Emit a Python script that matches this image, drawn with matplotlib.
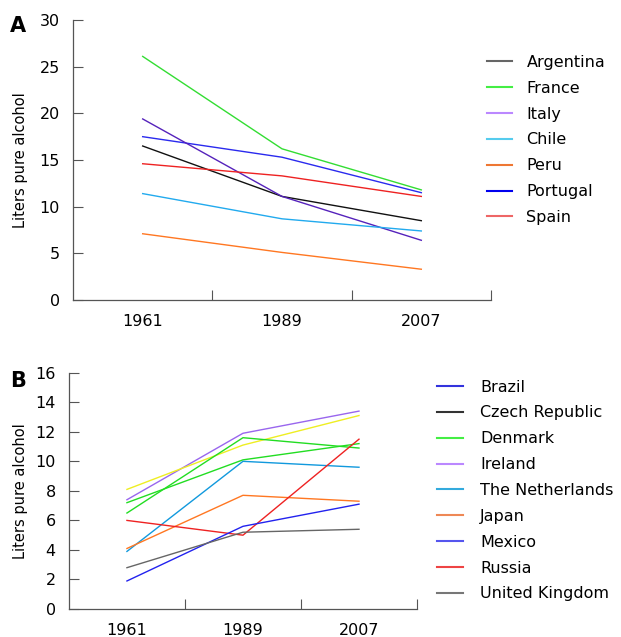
import matplotlib
matplotlib.use("Agg")
import matplotlib.pyplot as plt
from matplotlib.lines import Line2D

plt.rcParams.update({"font.family": "DejaVu Sans", "font.size": 11.5})

years = ["1961", "1989", "2007"]

# ---- panel A data (liters pure alcohol) ----
a_names = ["France", "Portugal", "Argentina", "Italy", "Spain", "Chile", "Peru"]
a_vals = [
    [26.1, 16.2, 11.8],
    [17.5, 15.3, 11.5],
    [16.5, 11.1, 8.5],
    [19.4, 11.1, 6.4],
    [14.6, 13.3, 11.1],
    [11.4, 8.7, 7.4],
    [7.1, 5.1, 3.3],
]
a_colors = ["#33dd33", "#2a2aee", "#111111", "#5522bb", "#ee2222", "#22aaee", "#ff7722"]
a_leg_names = ["Argentina", "France", "Italy", "Chile", "Peru", "Portugal", "Spain"]
a_leg_colors = ["#666666", "#44ee44", "#bb88ff", "#55ccee", "#ee7733", "#0000ee", "#ee6666"]

# ---- panel B data ----
b_vals = [
    [7.4, 11.9, 13.4],   # purple
    [8.1, 11.1, 13.1],   # yellow
    [7.2, 10.1, 11.2],   # green
    [6.5, 11.6, 10.9],   # green
    [3.9, 10.0, 9.6],    # cyan
    [4.1, 7.7, 7.3],     # orange
    [6.0, 5.0, 11.5],    # red
    [1.9, 5.6, 7.1],     # blue
    [2.8, 5.2, 5.4],     # gray
]
b_colors = ["#9966ee", "#eeee22", "#22dd22", "#22dd22", "#1199dd", "#ff7722",
            "#ee2222", "#2222ee", "#666666"]
b_leg_names = ["Brazil", "Czech Republic", "Denmark", "Ireland", "The Netherlands",
               "Japan", "Mexico", "Russia", "United Kingdom"]
b_leg_colors = ["#3333dd", "#333333", "#44ee44", "#bb88ff", "#33aadd", "#ee8855",
                "#5555ee", "#ee4444", "#777777"]

fig = plt.figure(figsize=(6.21, 6.37), dpi=100)
axA = fig.add_axes([0.1176, 0.529, 0.673, 0.4396])
axB = fig.add_axes([0.111, 0.0439, 0.5605, 0.371])


def style(ax, ymax, ystep):
    x = range(len(years))
    ax.set_xlim(-0.5, 2.5)
    ax.set_ylim(0, ymax)
    ax.set_yticks(range(0, ymax + 1, ystep))
    ax.set_xticks([0.5, 1.5, 2.5])
    ax.set_xticklabels([])
    ax.set_xticks(list(x), minor=True)
    ax.set_xticklabels(years, minor=True)
    ax.tick_params(axis="x", which="minor", length=0, pad=10)
    ax.tick_params(axis="x", which="major", direction="in", length=7, color="#555555")
    ax.tick_params(axis="y", direction="in", length=7, color="#555555", pad=9.5)
    for s in ("top", "right"):
        ax.spines[s].set_visible(False)
    for s in ("left", "bottom"):
        ax.spines[s].set_color("#555555")
        ax.spines[s].set_linewidth(0.9)
    ax.set_ylabel("Liters pure alcohol", fontsize=10.5)


for vals, c in zip(a_vals, a_colors):
    axA.plot(range(len(years)), vals, color=c, lw=1.0)
style(axA, 30, 5)
axA.yaxis.set_label_coords(-0.108, 0.5)
hA = [Line2D([0], [0], color=c, lw=1.5) for c in a_leg_colors]
axA.legend(hA, a_leg_names, loc="upper left", bbox_to_anchor=(0.955, 0.927),
           frameon=False, handlelength=1.6, handletextpad=0.9, labelspacing=0.68,
           fontsize=11.5)
fig.text(10 / 621, 1 - 26 / 637, "A", fontsize=15, fontweight="bold",
         va="center", ha="left")

for vals, c in zip(b_vals, b_colors):
    axB.plot(range(len(years)), vals, color=c, lw=1.0)
style(axB, 16, 2)
axB.yaxis.set_label_coords(-0.118, 0.5)
hB = [Line2D([0], [0], color=c, lw=1.5) for c in b_leg_colors]
axB.legend(hB, b_leg_names, loc="upper left", bbox_to_anchor=(1.016, 1.032),
           frameon=False, handlelength=1.6, handletextpad=1.1, labelspacing=0.68,
           fontsize=11.5)
fig.text(10 / 621, 1 - 381 / 637, "B", fontsize=15, fontweight="bold",
         va="center", ha="left")

fig.savefig("out.png", dpi=100, facecolor="white")
